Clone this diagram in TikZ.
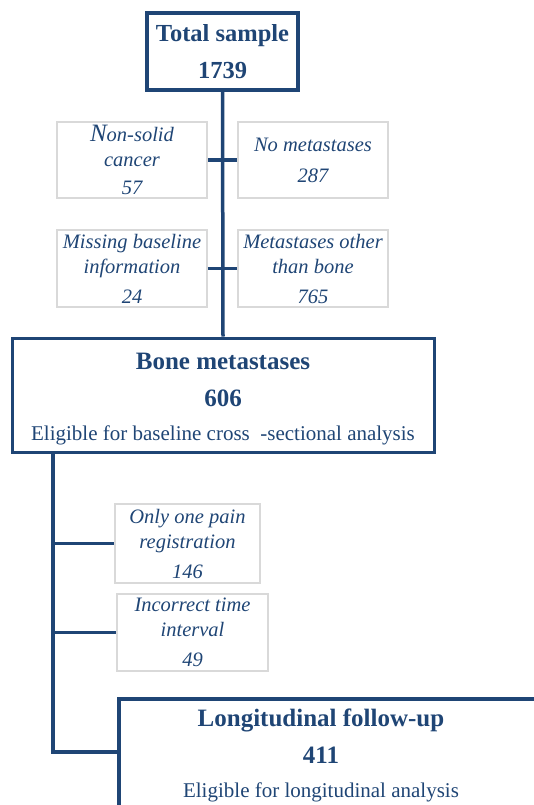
\documentclass[tikz,border=0pt]{standalone}
\usepackage{fontspec}
\setmainfont{Liberation Serif}
\definecolor{navy}{RGB}{31,69,117}
\definecolor{boxgray}{RGB}{217,217,217}

\begin{document}
\begin{tikzpicture}[x=1pt, y=-1pt,
    mainbox/.style={draw=navy, line width=3.5pt, text=navy, align=center, inner sep=0pt,
        font=\fontsize{25}{37}\selectfont\bfseries},
    exclbox/.style={draw=boxgray, line width=1.5pt, text=navy, align=center, inner sep=0pt,
        font=\fontsize{20.5}{25}\selectfont\itshape},
    link/.style={draw=navy, line width=3.5pt}]
\clip (0,0) rectangle (534,805);

% main path
\node[mainbox, font=\fontsize{24.5}{37}\selectfont\bfseries,
    minimum width=151pt, minimum height=77pt] (total) at (222.5,51.5)
    {Total sample\\1739};
\node[mainbox, line width=3pt, minimum width=422pt, minimum height=114pt] (bone) at (223,395)
    {\rule{0pt}{24pt}Bone metastases\\606\\[-3pt]
     {\fontsize{21}{36}\selectfont\mdseries Eligible for baseline cross\ \ -sectional analysis}};
\node[mainbox, anchor=north west, minimum width=440pt, minimum height=140pt] (follow) at (117,697) {};
\node[text=navy, align=center, inner sep=0pt, font=\fontsize{25}{37}\selectfont\bfseries]
    (followtext) at (321,755)
    {Longitudinal follow-up\\411\\[-3pt]
     {\fontsize{21}{36}\selectfont\mdseries Eligible for longitudinal analysis}};

% exclusions
\node[exclbox, minimum width=150pt, minimum height=76pt] (nonsolid) at (132,160)
    {{\fontsize{25}{25}\selectfont N}on-solid\\cancer\\[3pt]57};
\node[exclbox, minimum width=150pt, minimum height=76pt] (nometa) at (313,160)
    {No metastases\\[6pt]287};
\node[exclbox, minimum width=150pt, minimum height=77pt] (missing) at (132,268.5)
    {Missing baseline\\information\\[5pt]24};
\node[exclbox, minimum width=150pt, minimum height=77pt] (othermeta) at (313,268.5)
    {Metastases other\\than bone\\[5pt]765};
\node[exclbox, minimum width=145pt, minimum height=79pt] (onepain) at (187.5,543.5)
    {Only one pain\\registration\\[5pt]146};
\node[exclbox, minimum width=151pt, minimum height=77pt] (interval) at (192.5,632.5)
    {Incorrect time\\interval\\[5pt]49};

% connectors
\draw[link] (total.south) -- (bone.north);
\draw[link] (nonsolid.east) -- (nometa.west);
\draw[link] (missing.east) -- (othermeta.west);
\coordinate (corner) at (53,752);
\draw[link] (bone.south -| corner) -- (corner) -- (corner -| follow.west);
\draw[link] (onepain.west -| corner) -- (onepain.west);
\draw[link] (interval.west -| corner) -- (interval.west);
\end{tikzpicture}
\end{document}
